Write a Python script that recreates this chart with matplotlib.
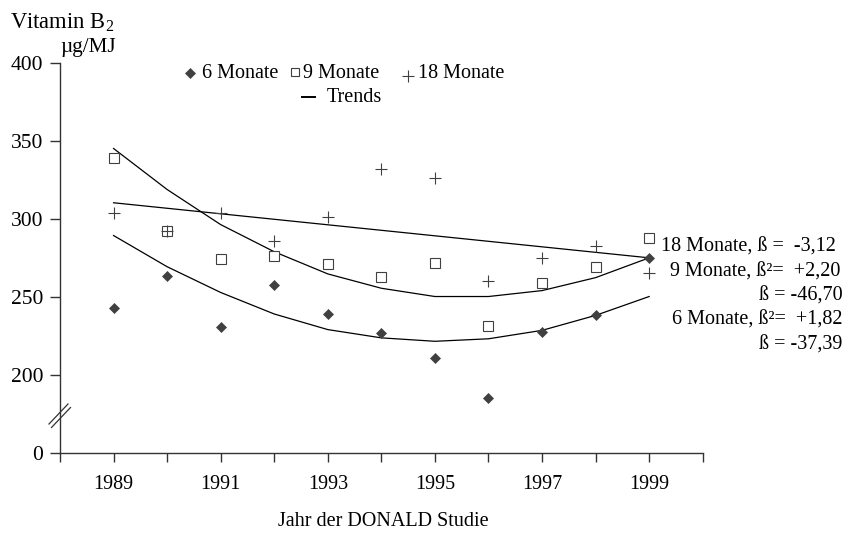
import matplotlib
matplotlib.use("Agg")
import matplotlib.pyplot as plt
from matplotlib.lines import Line2D

plt.rcParams['font.family'] = ['Liberation Serif', 'DejaVu Serif']
plt.rcParams['mathtext.fontset'] = 'custom'
plt.rcParams['mathtext.rm'] = 'Liberation Serif'
plt.rcParams['mathtext.it'] = 'Liberation Serif:italic'

# --- data -------------------------------------------------------------
years = [1989, 1990, 1991, 1992, 1993, 1994, 1995, 1996, 1997, 1998, 1999]
monate_6 = [243.1, 263.7, 231.2, 257.9, 239.5, 227.0, 211.4, 185.3, 227.8, 238.4, 275.3]
monate_9 = [339.0, 292.3, 274.7, 276.4, 271.3, 263.2, 272.2, 231.8, 259.4, 269.6, 287.7]
monate_18 = [304.3, 292.3, 304.3, 286.0, 301.5, 332.3, 326.3, 260.7, 275.3, 282.8, 265.4]

trend_6 = [289.6, 269.6, 253.1, 239.3, 229.3, 224.0, 221.8, 223.4, 228.8, 238.4, 250.5]
trend_9 = [345.4, 319.1, 296.6, 279.2, 265.0, 255.8, 250.5, 250.5, 254.3, 262.6, 275.3]
trend_18_years = [1989, 1999]
trend_18 = [310.6, 275.3]

y_tick_values = [0, 200, 250, 300, 350, 400]
x_tick_years = list(range(1988, 2001))
x_label_years = [1989, 1991, 1993, 1995, 1997, 1999]

annotations = [
    "18 Monate, ß =  -3,12",
    "9 Monate, ß²=  +2,20",
    "ß = -46,70",
    "6 Monate, ß²=  +1,82",
    "ß = -37,39",
]

# --- layout -----------------------------------------------------------
W, H = 848, 535
FS = 14.5
INK = '#333333'
MARK = '#404040'
BREAK_BASE = 150  # axis position where the "0" tick sits below the break


def fx(px):
    return px / W


def fy(py):
    return 1 - py / H


fig = plt.figure(figsize=(W / 100, H / 100), dpi=100)
ax = fig.add_axes([fx(60), fy(453.3), fx(702.7) - fx(60), fy(63.3) - fy(453.3)])

# trends
ax.plot(years, trend_6, color='black', lw=0.9, clip_on=False)
ax.plot(years, trend_9, color='black', lw=0.9, clip_on=False)
ax.plot(trend_18_years, trend_18, color='black', lw=0.9, clip_on=False)

# observations
ax.plot(years, monate_9, ls='none', marker='s', ms=6.9, mfc='white',
        mec=MARK, mew=0.8, clip_on=False)
ax.plot(years, monate_18, ls='none', marker='+', ms=8.2, mec=MARK,
        mew=0.8, clip_on=False)
ax.plot(years, monate_6, ls='none', marker='D', ms=5.6, mfc=MARK,
        mec=MARK, mew=0.5, clip_on=False)

ax.set_xlim(1988, 2000)
ax.set_ylim(BREAK_BASE, 400)

ax.set_xticks(x_tick_years)
ax.set_xticklabels([str(y) if y in x_label_years else '' for y in x_tick_years])
y_pos = [BREAK_BASE if v == 0 else v for v in y_tick_values]
ax.set_yticks(y_pos)
ax.set_yticklabels([str(v) for v in y_tick_values])

for side in ('top', 'right'):
    ax.spines[side].set_visible(False)
for side in ('left', 'bottom'):
    ax.spines[side].set_color(INK)
    ax.spines[side].set_linewidth(1.0)

ax.tick_params(axis='y', direction='out', length=7.2, width=1.0,
               color=INK, labelsize=15.5, pad=5)
ax.tick_params(axis='x', direction='out', length=6.8, width=1.0,
               color=INK, labelsize=FS, pad=9)

# axis break marks
aw = 642.7
ah = 390.0
for dx, dy in ((0, 0), (2.5, -3.5)):
    x0, y0 = 49 + dx, 424 - dy
    x1, y1 = 68 + dx, 404 - dy
    ax.add_line(Line2D([(x0 - 60) / aw, (x1 - 60) / aw],
                       [(453.3 - y0) / ah, (453.3 - y1) / ah],
                       transform=ax.transAxes, color=INK, lw=0.9,
                       clip_on=False))

# axis titles
fig.text(fx(10), fy(28.3), 'Vitamin B$_2$', fontsize=16.3, va='baseline', ha='left')
fig.text(fx(60), fy(52), 'µg/MJ', fontsize=15.2, va='baseline', ha='left')
fig.text(fx(383), fy(521), 'Jahr der DONALD Studie', fontsize=FS,
         ha='center', va='center')

# legend
def legend_marker(x, y, **kw):
    fig.add_artist(Line2D([fx(x)], [fy(y)], transform=fig.transFigure,
                          ls='none', **kw))

legend_marker(190, 73.3, marker='D', ms=5.6, mfc=MARK, mec=MARK, mew=0.5)
fig.text(fx(201.7), fy(78.3), '6 Monate', fontsize=FS, va='baseline')
legend_marker(295, 72, marker='s', ms=6.3, mfc='white', mec=MARK, mew=0.8)
fig.text(fx(303), fy(78.3), '9 Monate', fontsize=FS, va='baseline')
legend_marker(407.7, 75.7, marker='+', ms=8, mec=MARK, mew=0.8)
fig.text(fx(418.3), fy(78.3), '18 Monate', fontsize=FS, va='baseline')
fig.add_artist(Line2D([fx(301.7), fx(315)], [fy(96.7), fy(96.7)],
                      transform=fig.transFigure, color='black', lw=1.4))
fig.text(fx(326.7), fy(101.7), 'Trends', fontsize=FS, va='baseline')

# regression coefficients
right_edges = [836, 840.7, 842.3, 842.3, 842.3]
baselines = [252, 276.5, 301, 325, 349.5]
for text, xr, yb in zip(annotations, right_edges, baselines):
    fig.text(fx(xr), fy(yb), text, fontsize=FS, ha='right', va='baseline')

fig.savefig('out.png', dpi=100)
